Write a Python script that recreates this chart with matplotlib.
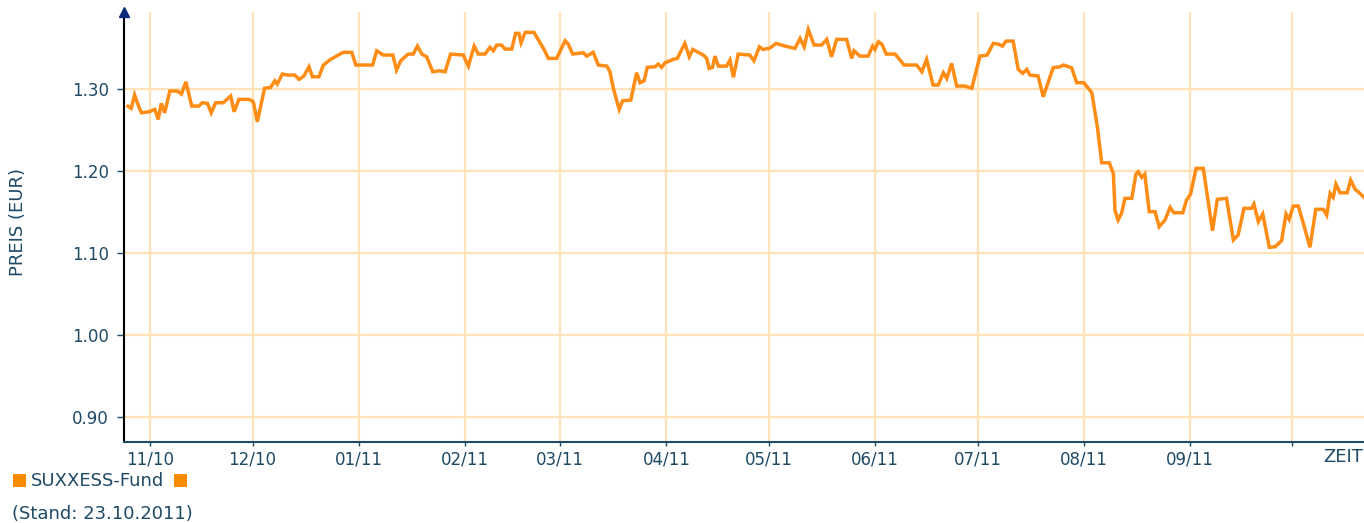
import matplotlib
matplotlib.use("Agg")
import matplotlib.pyplot as plt
from matplotlib.patches import Rectangle
import datetime as dt

# ---------------- data ----------------
start_date = dt.datetime(2010, 10, 24)
day_offsets = [
    1.6, 2.5, 3.5, 4.8, 5.5, 7.7, 9.4, 10.4, 11.3, 12.3, 13.8, 16.0, 17.2, 18.5, 20.2, 22.3,
    23.3, 24.8, 25.9, 27.2, 29.4, 31.6, 32.6, 34.0, 37.0, 38.2, 39.4, 41.5, 43.3, 44.5, 45.2,
    46.7, 48.2, 50.3, 51.6, 53.0, 54.5, 55.5, 57.4, 58.7, 60.8, 64.5, 67.0, 68.2, 73.1, 74.3,
    76.2, 79.0, 80.1, 81.3, 83.5, 85.0, 86.2, 87.5, 88.9, 90.7, 92.6, 94.3, 95.9, 99.6, 101.1,
    102.8, 104.0, 106.0, 107.4, 108.4, 109.4, 110.8, 111.8, 113.8, 114.9, 115.9, 116.5, 117.7,
    120.3, 123.2, 124.5, 126.9, 129.4, 130.3, 131.6, 134.7, 135.7, 137.6, 139.1, 141.6, 142.5,
    143.5, 145.2, 146.2, 148.6, 150.3, 151.3, 152.5, 153.4, 155.7, 156.6, 157.6, 158.6, 160.1,
    161.0, 162.2, 164.4, 165.7, 166.7, 169.8, 170.8, 171.5, 172.5, 173.2, 174.2, 176.6, 177.6,
    178.6, 180.0, 183.4, 184.6, 186.2, 187.2, 189.1, 191.1, 193.7, 196.6, 198.1, 199.3, 200.5,
    202.2, 204.4, 205.9, 207.3, 208.8, 211.7, 213.2, 213.9, 215.6, 218.0, 219.3, 220.0, 221.0,
    222.0, 223.3, 225.9, 228.5, 232.2, 233.7, 235.1, 237.0, 238.5, 240.0, 241.0, 242.4, 243.9,
    246.3, 248.3, 250.7, 252.8, 254.6, 256.0, 257.3, 258.3, 260.4, 261.9, 263.2, 264.4, 265.3,
    267.7, 269.2, 272.1, 274.1, 275.1, 277.5, 279.0, 281.1, 283.4, 285.0, 286.3, 288.5, 289.7,
    290.2, 291.1, 292.1, 293.1, 295.1, 296.3, 297.0, 298.0, 298.9, 300.2, 301.9, 303.1, 304.8,
    306.3, 307.4, 310.0, 311.1, 312.3, 313.9, 316.0, 318.7, 320.1, 322.8, 324.8, 326.2, 327.9,
    330.1, 330.8, 332.1, 333.4, 335.3, 337.0, 338.9, 340.2, 341.1, 342.3, 343.8, 345.4, 347.2,
    348.9, 351.1, 352.1, 353.1, 354.0, 354.8, 356.0, 358.1, 359.1, 360.4, 361.8, 363.0,
]
prices = [
    1.279, 1.2765, 1.2927, 1.2777, 1.2711, 1.2723, 1.2752, 1.2630, 1.2826, 1.2711, 1.2976, 1.2976,
    1.2939, 1.3089, 1.2793, 1.2793, 1.2833, 1.2826, 1.2711, 1.2833, 1.2833, 1.2915, 1.2723, 1.2874,
    1.2874, 1.2845, 1.2601, 1.3009, 1.3021, 1.3101, 1.3061, 1.3183, 1.3171, 1.3171, 1.3118, 1.3159,
    1.3272, 1.3150, 1.3150, 1.3293, 1.3362, 1.3448, 1.3448, 1.3293, 1.3293, 1.3467, 1.3415, 1.3415,
    1.3232, 1.3345, 1.3427, 1.3427, 1.3524, 1.3427, 1.3394, 1.3211, 1.3223, 1.3211, 1.3427, 1.3415,
    1.3280, 1.3524, 1.3427, 1.3427, 1.3509, 1.3467, 1.3537, 1.3537, 1.3488, 1.3488, 1.3679, 1.3679,
    1.3565, 1.3691, 1.3691, 1.3484, 1.3374, 1.3374, 1.3589, 1.3549, 1.3427, 1.3443, 1.3402, 1.3448,
    1.3293, 1.3280, 1.3211, 1.3009, 1.2752, 1.2857, 1.2866, 1.3199, 1.3077, 1.3101, 1.3265, 1.3272,
    1.3305, 1.3265, 1.3321, 1.3345, 1.3362, 1.3374, 1.3557, 1.3394, 1.3484, 1.3415, 1.3374, 1.3252,
    1.3265, 1.3402, 1.3280, 1.3280, 1.3354, 1.3143, 1.3427, 1.3415, 1.3345, 1.3516, 1.3484, 1.3496,
    1.3557, 1.3524, 1.3496, 1.3618, 1.3516, 1.3728, 1.3537, 1.3537, 1.3606, 1.3394, 1.3606, 1.3606,
    1.3374, 1.3467, 1.3402, 1.3402, 1.3524, 1.3484, 1.3577, 1.3549, 1.3427, 1.3427, 1.3293, 1.3293,
    1.3211, 1.3362, 1.3049, 1.3049, 1.3199, 1.3130, 1.3313, 1.3037, 1.3037, 1.3009, 1.3402, 1.3415,
    1.3557, 1.3549, 1.3524, 1.3585, 1.3585, 1.3240, 1.3191, 1.3240, 1.3171, 1.3159, 1.2906, 1.3260,
    1.3272, 1.3293, 1.3260, 1.3077, 1.3077, 1.2955, 1.2549, 1.2101, 1.2101, 1.1972, 1.1516, 1.1402,
    1.1484, 1.1667, 1.1667, 1.1963, 1.1992, 1.1923, 1.1963, 1.1504, 1.1504, 1.1321, 1.1402, 1.1557,
    1.1491, 1.1491, 1.1646, 1.1720, 1.2033, 1.2033, 1.1272, 1.1655, 1.1667, 1.1159, 1.1220, 1.1545,
    1.1545, 1.1598, 1.1382, 1.1476, 1.1070, 1.1077, 1.1150, 1.1476, 1.1411, 1.1573, 1.1573, 1.1341,
    1.1070, 1.1533, 1.1533, 1.1463, 1.1728, 1.1679, 1.1841, 1.1735, 1.1735, 1.1890, 1.1777, 1.1728,
    1.1679,
]
month_starts = ["2010-11-01", "2010-12-01", "2011-01-01", "2011-02-01", "2011-03-01",
                "2011-04-01", "2011-05-01", "2011-06-01", "2011-07-01", "2011-08-01",
                "2011-09-01", "2011-10-01"]
month_labels = ["11/10", "12/10", "01/11", "02/11", "03/11", "04/11", "05/11",
                "06/11", "07/11", "08/11", "09/11", ""]
y_ticks = [0.90, 1.00, 1.10, 1.20, 1.30]
y_tick_labels = ["0.90", "1.00", "1.10", "1.20", "1.30"]
series_name = "SUXXESS-Fund"
stand_text = "(Stand: 23.10.2011)"
y_title = "PREIS (EUR)"
x_title = "ZEIT"

# ---------------- style ----------------
LINE = "#FF8C14"
GRID = "#FFE2B8"
TXT = "#1E4A66"
plt.rcParams["font.family"] = ["DejaVu Sans"]

dates = [start_date + dt.timedelta(days=d) for d in day_offsets]
ticks = [dt.datetime.strptime(s, "%Y-%m-%d") for s in month_starts]

fig = plt.figure(figsize=(13.64, 5.23), dpi=100)
ax = fig.add_axes([124 / 1364, 81 / 523, 1 - 124 / 1364, 430 / 523])

ax.set_xlim(start_date + dt.timedelta(days=0.4), start_date + dt.timedelta(days=363.0))
ax.set_ylim(0.8695, 1.394)

for t in ticks:
    ax.axvline(t, color=GRID, lw=1.6, zorder=1)
for yv in y_ticks:
    ax.axhline(yv, color=GRID, lw=1.6, zorder=1)

ax.plot(dates, prices, color=LINE, lw=2.5, solid_joinstyle="miter", zorder=3)

ax.set_xticks(ticks)
ax.set_xticklabels(month_labels)
ax.set_yticks(y_ticks)
ax.set_yticklabels(y_tick_labels)
ax.tick_params(axis="x", colors=TXT, labelsize=12, length=3, width=1, pad=3)
ax.tick_params(axis="y", colors=TXT, labelsize=12, length=5, width=1, pad=6)

for s in ["top", "right"]:
    ax.spines[s].set_visible(False)
ax.spines["left"].set_color("black")
ax.spines["left"].set_linewidth(1.5)
ax.spines["bottom"].set_color(TXT)
ax.spines["bottom"].set_linewidth(1.5)

# arrow head on y-axis
ax.plot([0], [1.0], marker="^", color="#0A2A7A", markersize=7,
        transform=ax.transAxes, clip_on=False, zorder=5)

fig.text(18 / 1364, 1 - 222 / 523, y_title, rotation=90, color=TXT, fontsize=13,
         ha="center", va="center")
fig.text(1 - 1 / 1364, 1 - 457 / 523, x_title, color=TXT, fontsize=13, ha="right", va="center")

# legend
fig.patches.append(Rectangle((13 / 1364, 1 - 487 / 523), 13 / 1364, 13 / 523,
                             transform=fig.transFigure, facecolor="#FF8C00", edgecolor="none"))
fig.text(31 / 1364, 1 - 481 / 523, series_name, color=TXT, fontsize=13, ha="left", va="center")
fig.patches.append(Rectangle((174 / 1364, 1 - 487 / 523), 13 / 1364, 13 / 523,
                             transform=fig.transFigure, facecolor="#FF8C00", edgecolor="none"))
fig.text(12 / 1364, 1 - 514 / 523, stand_text, color=TXT, fontsize=13, ha="left", va="center")

fig.savefig("out.png", dpi=100)
